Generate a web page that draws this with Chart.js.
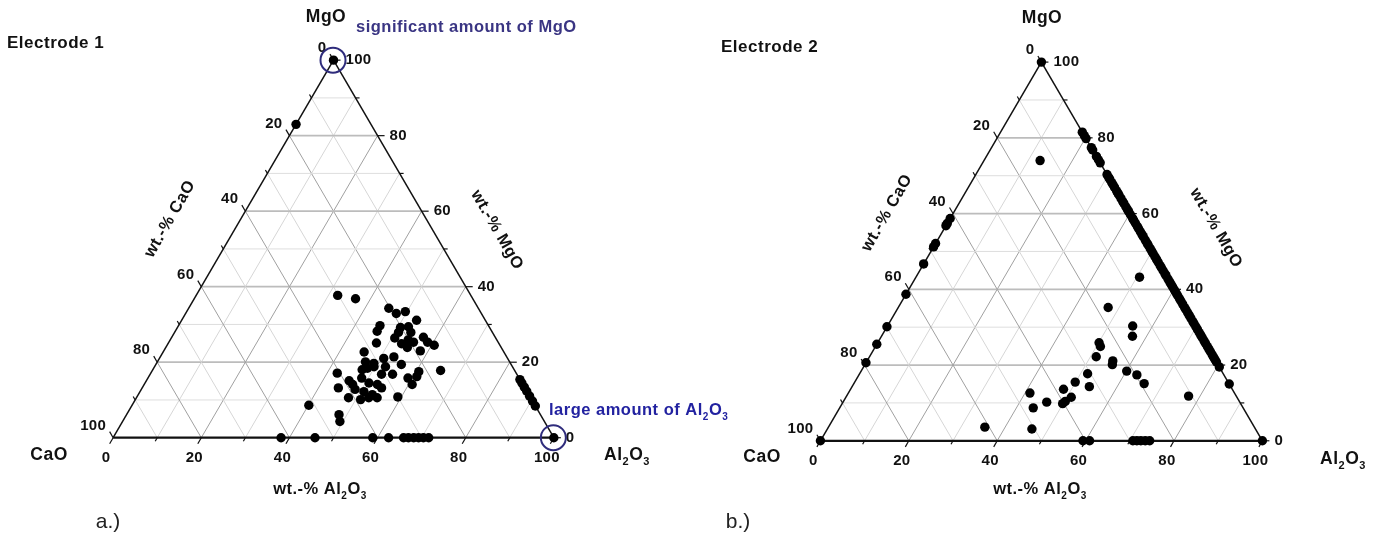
<!DOCTYPE html>
<html>
<head>
<meta charset="utf-8">
<script src="https://cdn.jsdelivr.net/npm/chart.js@4.4.1/dist/chart.umd.min.js"></script>
<style>
  html, body { margin: 0; padding: 0; background: #fff; }
  #wrap { width: 1380px; height: 541px; position: relative; }
</style>
</head>
<body>
<div id="wrap"><canvas id="ternChart"></canvas></div>
<script>
// Electrode 1 compositions in wt.-% (CaO is the rest to 100)
const e1Al2O3 = [0, 0, 84.6, 85.5, 86.6, 87.7, 89.0, 90.3, 91.6, 100,
  38.1, 45.8, 58.9, 62.5, 65.9, 67.0, 68.2, 69.3, 70.4, 71.6,
  32.1, 36.6, 45.4, 47.8, 49.6, 53.3, 45.7, 45.8, 50.6, 52.3,
  53.6, 50.8, 50.7, 54.0, 55.5, 53.0, 54.8, 57.1, 58.7, 60.6,
  58.2, 47.2, 45.6, 47.2, 49.3, 48.5, 49.8, 47.5, 50.9, 53.0,
  55.7, 52.4, 55.0, 52.5, 42.3, 46.0, 47.3, 48.5, 44.5, 48.5,
  50.8, 52.9, 54.3, 50.8, 53.1, 54.6, 48.1, 51.1, 52.7, 59.2,
  59.0, 60.8, 60.6, 60.8, 48.2, 49.3, 65.4, 40.1];
const e1MgO = [100, 83, 15.4, 14.5, 13.4, 12.3, 11.0, 9.7, 8.4, 0,
  0, 0, 0, 0, 0, 0, 0, 0, 0, 0,
  37.7, 36.8, 34.3, 32.9, 33.4, 31.1, 29.7, 28.2, 29.2, 29.4,
  27.9, 27.9, 26.4, 25.9, 25.3, 24.9, 23.9, 26.6, 25.3, 24.5,
  23.0, 25.1, 22.7, 20.1, 19.7, 18.4, 18.8, 18.0, 21.0, 21.4,
  19.4, 18.8, 16.8, 16.8, 17.1, 15.1, 14.1, 12.8, 13.2, 15.8,
  14.5, 14.1, 13.2, 12.2, 11.4, 10.6, 10.6, 10.1, 10.6, 10.8,
  15.8, 14.1, 17.5, 16.2, 6.1, 4.3, 17.8, 8.6];

// Electrode 2 compositions in wt.-%
const e2Al2O3 = [0, 0, 0, 0, 0, 0, 0, 0, 0, 0, 0, 0, 100,
  12.7, 50.6, 47.5, 55.5, 56.8, 50.1, 50.9, 51.3, 55.6, 56.0,
  60.1, 62.9, 65.7, 51.6, 53.7, 49.9, 48.2, 51.0, 50.2, 49.9,
  46.1, 41.1, 43.8, 46.3, 35.4, 77.4,
  59.4, 60.9, 70.7, 71.6, 72.5, 73.5, 74.5];
const e2MgO = [100, 58.7, 57.4, 56.8, 52.1, 51.2, 46.7, 38.7, 30.1, 25.5, 20.6, 0, 0,
  74.0, 43.2, 35.2, 30.3, 27.6, 25.9, 24.9, 22.2, 21.1, 20.1,
  18.4, 17.4, 15.1, 17.7, 14.3, 15.5, 13.6, 11.5, 10.4, 9.8,
  10.2, 12.6, 8.7, 3.1, 3.6, 11.8,
  0, 0, 0, 0, 0, 0, 0];
// Electrode 2 points without CaO (on the MgO - Al2O3 side)
const e2EdgeMgO = [81.5, 80.6, 79.8, 77.4, 76.8, 75.1, 74.2, 73.4,
  70.3, 69.6, 69.1, 68.2, 67.6, 66.9, 66.0, 65.4, 64.9, 64.0, 63.2, 62.7,
  61.8, 61.1, 60.5, 59.7, 58.8, 58.3, 57.5, 56.6, 56.0, 55.2, 54.5, 53.9,
  53.0, 52.2, 51.7, 50.8, 50.1, 49.4, 48.6, 47.9, 47.2, 46.3, 45.7, 44.9,
  44.1, 43.6, 42.7, 41.9, 41.2, 40.6, 39.8, 39.0, 38.3, 37.5, 36.9, 36.1,
  35.2, 34.6, 33.8, 33.1, 32.4, 31.5, 30.9, 30.1, 29.4, 28.6, 27.9, 27.2,
  26.4, 25.7, 24.9, 24.2, 23.5, 22.7, 22.0, 21.4, 20.8, 19.5, 15.0];

const tickValues = [0, 20, 40, 60, 80, 100];
const minorTicks = [10, 30, 50, 70, 90];
const gridValues = [10, 20, 30, 40, 50, 60, 70, 80, 90];

const FONT = "'Liberation Sans', Arial, sans-serif";
const H = Math.sqrt(3) / 2;

// where each triangle sits in chart units (CaO corner) and its side length
const panels = [
  { ox: 0, oy: 0, size: 100, title: 'Electrode 1', titlePos: [7, 43], mgoPos: [326, 17],
    caoPos: [49, 455], alPos: [627, 455], caoTitle: [170, 219], mgoTitle: [497, 230],
    alTitle: [320, 489], letter: 'a.)', letterPos: [108, 522] },
  { ox: 160.49, oy: -0.70, size: 100.29, title: 'Electrode 2', titlePos: [721, 47], mgoPos: [1042, 18],
    caoPos: [762, 457], alPos: [1343, 459], caoTitle: [887, 213], mgoTitle: [1216, 228],
    alTitle: [1040, 489], letter: 'b.)', letterPos: [738, 522] }
];

function toXY(p, al, mg) {
  return { x: p.ox + p.size * (al + mg / 2) / 100, y: p.oy + p.size * mg * H / 100 };
}

function pix(chart, p, al, mg) {
  const pt = toXY(p, al, mg);
  return [chart.scales.x.getPixelForValue(pt.x), chart.scales.y.getPixelForValue(pt.y)];
}

function seg(ctx, a, b) {
  ctx.beginPath();
  ctx.moveTo(a[0], a[1]);
  ctx.lineTo(b[0], b[1]);
  ctx.stroke();
}

// text with chemical subscripts, parts = [[text, isSub], ...]
function chem(ctx, parts, x, y, size, align) {
  const sub = Math.round(size * 0.62);
  let w = 0;
  parts.forEach(([t, s]) => {
    ctx.font = 'bold ' + (s ? sub : size) + 'px ' + FONT;
    w += ctx.measureText(t).width;
  });
  let cx = align === 'center' ? x - w / 2 : (align === 'right' ? x - w : x);
  ctx.textAlign = 'left';
  ctx.textBaseline = 'middle';
  parts.forEach(([t, s]) => {
    ctx.font = 'bold ' + (s ? sub : size) + 'px ' + FONT;
    ctx.fillText(t, cx, s ? y + size * 0.42 : y);
    cx += ctx.measureText(t).width;
  });
}

function drawGrid(chart, p) {
  const ctx = chart.ctx;
  ctx.save();
  gridValues.forEach(k => {
    const major = k % 20 === 0;
    ctx.strokeStyle = major ? '#bcbcbc' : '#dedede';
    ctx.lineWidth = major ? 1.7 : 1;
    seg(ctx, pix(chart, p, 0, k), pix(chart, p, 100 - k, k));
    ctx.strokeStyle = major ? '#a0a0a0' : '#d6d6d6';
    ctx.lineWidth = 1;
    seg(ctx, pix(chart, p, k, 0), pix(chart, p, k, 100 - k));
    seg(ctx, pix(chart, p, 100 - k, 0), pix(chart, p, 0, 100 - k));
  });
  ctx.restore();
}

function drawFrame(chart, p) {
  const ctx = chart.ctx;
  const A = pix(chart, p, 0, 0), B = pix(chart, p, 100, 0), C = pix(chart, p, 0, 100);
  ctx.save();
  ctx.strokeStyle = '#111';
  ctx.lineWidth = 1.5;
  seg(ctx, A, C);
  seg(ctx, C, B);
  ctx.lineWidth = 2.3;
  seg(ctx, A, B);
  ctx.lineWidth = 1.2;
  const tick = (pt, dx, dy, len) => seg(ctx, pt, [pt[0] + dx * len, pt[1] + dy * len]);
  tickValues.concat(minorTicks).forEach(v => {
    const len = v % 20 === 0 ? 7 : 4;
    tick(pix(chart, p, v, 0), -0.5, H, len);          // Al2O3 axis
    tick(pix(chart, p, 100 - v, v), 1, 0, len);       // MgO axis
    tick(pix(chart, p, 0, 100 - v), -0.5, -H, len);   // CaO axis
  });
  ctx.restore();
}

function drawLabels(chart, p) {
  const ctx = chart.ctx;
  ctx.save();
  ctx.fillStyle = '#111';
  ctx.letterSpacing = '0.3px';
  ctx.font = 'bold 15px ' + FONT;
  ctx.textBaseline = 'middle';
  tickValues.forEach(v => {
    const b = pix(chart, p, v, 0);
    ctx.textAlign = 'center';
    ctx.fillText(String(v), b[0] - 7, b[1] + 20);
    const r = pix(chart, p, 100 - v, v);
    ctx.textAlign = 'left';
    ctx.fillText(String(v), r[0] + 12, r[1]);
    const l = pix(chart, p, 0, 100 - v);
    ctx.textAlign = 'right';
    ctx.fillText(String(v), l[0] - 7, l[1] - 12);
  });

  ctx.letterSpacing = '0.5px';
  ctx.font = 'bold 17px ' + FONT;
  ctx.textAlign = 'left';
  ctx.fillText(p.title, p.titlePos[0], p.titlePos[1]);
  ctx.font = 'bold 17.5px ' + FONT;
  ctx.textAlign = 'center';
  ctx.fillText('MgO', p.mgoPos[0], p.mgoPos[1]);
  ctx.fillText('CaO', p.caoPos[0], p.caoPos[1]);
  chem(ctx, [['Al', false], ['2', true], ['O', false], ['3', true]], p.alPos[0], p.alPos[1], 17.5, 'center');

  ctx.font = 'bold 16.5px ' + FONT;
  ctx.save();
  ctx.translate(p.caoTitle[0], p.caoTitle[1]);
  ctx.rotate(-Math.PI / 3);
  ctx.textAlign = 'center';
  ctx.fillText('wt.-% CaO', 0, 0);
  ctx.restore();
  ctx.save();
  ctx.translate(p.mgoTitle[0], p.mgoTitle[1]);
  ctx.rotate(Math.PI / 3);
  ctx.textAlign = 'center';
  ctx.fillText('wt.-% MgO', 0, 0);
  ctx.restore();
  chem(ctx, [['wt.-% Al', false], ['2', true], ['O', false], ['3', true]], p.alTitle[0], p.alTitle[1], 16.5, 'center');

  ctx.letterSpacing = '0px';
  ctx.fillStyle = '#222';
  ctx.font = '21px ' + FONT;
  ctx.textAlign = 'center';
  ctx.fillText(p.letter, p.letterPos[0], p.letterPos[1]);
  ctx.restore();
}

function drawNotes(chart) {
  const ctx = chart.ctx;
  const p = panels[0];
  const top = pix(chart, p, 0, 100), corner = pix(chart, p, 100, 0);
  ctx.save();
  ctx.strokeStyle = '#2f2c7c';
  ctx.lineWidth = 2;
  [top, corner].forEach(c => {
    ctx.beginPath();
    ctx.arc(c[0] - 0.5, c[1], 12.5, 0, Math.PI * 2);
    ctx.stroke();
  });
  ctx.letterSpacing = '0.5px';
  ctx.fillStyle = '#3a3583';
  ctx.font = 'bold 16.5px ' + FONT;
  ctx.textAlign = 'left';
  ctx.textBaseline = 'middle';
  ctx.fillText('significant amount of MgO', 356, 27);
  ctx.fillStyle = '#2222a0';
  chem(ctx, [['large amount of Al', false], ['2', true], ['O', false], ['3', true]], 549, 410, 16.5, 'left');
  ctx.restore();
}

const ternaryPlugin = {
  id: 'ternary',
  beforeDatasetsDraw(chart) {
    panels.forEach(p => { drawGrid(chart, p); drawFrame(chart, p); });
  },
  afterDatasetsDraw(chart) {
    panels.forEach(p => drawLabels(chart, p));
    drawNotes(chart);
  }
};

const dot = { backgroundColor: '#000', borderWidth: 0, pointRadius: 4.7, pointHoverRadius: 4.7 };

new Chart(document.getElementById('ternChart'), {
  type: 'scatter',
  data: {
    datasets: [
      Object.assign({ label: 'Electrode 1', data: e1Al2O3.map((a, i) => toXY(panels[0], a, e1MgO[i])) }, dot),
      Object.assign({ label: 'Electrode 2', data: e2Al2O3.map((a, i) => toXY(panels[1], a, e2MgO[i])) }, dot),
      Object.assign({ label: 'Electrode 2 (no CaO)', data: e2EdgeMgO.map(m => toXY(panels[1], 100 - m, m)) }, dot)
    ]
  },
  options: {
    responsive: true,
    maintainAspectRatio: false,
    animation: false,
    layout: { padding: 0 },
    plugins: { legend: { display: false }, tooltip: { enabled: false } },
    scales: {
      x: { type: 'linear', min: -24.61, max: 286.4, display: false },
      y: { type: 'linear', min: -22.61, max: 99.32, display: false }
    }
  },
  plugins: [ternaryPlugin]
});
</script>
</body>
</html>
